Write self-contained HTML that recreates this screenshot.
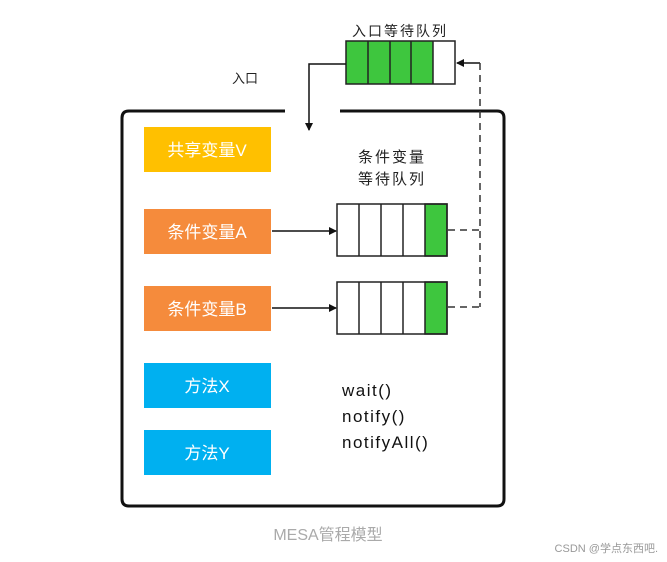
<!DOCTYPE html>
<html><head><meta charset="utf-8"><style>
html,body{margin:0;padding:0;background:#fff;}
svg{display:block;font-family:"Liberation Sans","Noto Sans CJK SC",sans-serif;}
</style></head><body>
<svg width="667" height="562" viewBox="0 0 667 562" xmlns="http://www.w3.org/2000/svg">
<defs><marker id="a" markerWidth="8" markerHeight="8" refX="7" refY="4" orient="auto" markerUnits="userSpaceOnUse"><path d="M0,0 L8,4 L0,8 z" fill="#111"/></marker></defs>
<path d="M285,111 L129,111 Q122,111 122,118 L122,499 Q122,506 129,506 L497,506 Q504,506 504,499 L504,118 Q504,111 497,111 L340,111" fill="none" stroke="#111" stroke-width="3"/>
<text x="232" y="83" font-size="13" fill="#222">入口</text>
<text x="400" y="36" font-size="14" fill="#222" text-anchor="middle" letter-spacing="2">入口等待队列</text>
<rect x="346" y="41" width="87" height="43" fill="#3EC63E"/>
<rect x="346" y="41" width="109" height="43" fill="none" stroke="#222" stroke-width="1.5"/>
<g stroke="#222" stroke-width="1.5"><line x1="368" y1="41" x2="368" y2="84"/><line x1="390" y1="41" x2="390" y2="84"/><line x1="411" y1="41" x2="411" y2="84"/><line x1="433" y1="41" x2="433" y2="84"/></g>
<polyline points="346,64 309,64 309,130" fill="none" stroke="#111" stroke-width="1.5" marker-end="url(#a)"/>
<line x1="480" y1="63" x2="457" y2="63" stroke="#111" stroke-width="1.5" marker-end="url(#a)"/>
<line x1="480" y1="63" x2="480" y2="307" stroke="#333" stroke-width="1.5" stroke-dasharray="7,5"/>
<rect x="144" y="127" width="127" height="45" fill="#FFC000"/>
<text x="207" y="156" font-size="17" fill="#fff" text-anchor="middle">共享变量V</text>
<rect x="144" y="209" width="127" height="45" fill="#F58B3C"/>
<text x="207" y="238" font-size="17" fill="#fff" text-anchor="middle">条件变量A</text>
<rect x="144" y="286" width="127" height="45" fill="#F58B3C"/>
<text x="207" y="315" font-size="17" fill="#fff" text-anchor="middle">条件变量B</text>
<rect x="144" y="363" width="127" height="45" fill="#00B0F0"/>
<text x="207" y="392" font-size="17" fill="#fff" text-anchor="middle">方法X</text>
<rect x="144" y="430" width="127" height="45" fill="#00B0F0"/>
<text x="207" y="459" font-size="17" fill="#fff" text-anchor="middle">方法Y</text>
<text x="392" y="162" font-size="15" fill="#222" text-anchor="middle" letter-spacing="2">条件变量</text>
<text x="392" y="184" font-size="15" fill="#222" text-anchor="middle" letter-spacing="2">等待队列</text>
<g stroke="#222" stroke-width="1.5">
<rect x="425" y="204" width="22" height="52" fill="#3EC63E"/>
<rect x="337" y="204" width="110" height="52" fill="none"/>
<line x1="359" y1="204" x2="359" y2="256"/><line x1="381" y1="204" x2="381" y2="256"/><line x1="403" y1="204" x2="403" y2="256"/>
<rect x="425" y="282" width="22" height="52" fill="#3EC63E"/>
<rect x="337" y="282" width="110" height="52" fill="none"/>
<line x1="359" y1="282" x2="359" y2="334"/><line x1="381" y1="282" x2="381" y2="334"/><line x1="403" y1="282" x2="403" y2="334"/>
</g>
<line x1="272" y1="231" x2="336" y2="231" stroke="#111" stroke-width="1.5" marker-end="url(#a)"/>
<line x1="272" y1="308" x2="336" y2="308" stroke="#111" stroke-width="1.5" marker-end="url(#a)"/>
<line x1="448" y1="230" x2="480" y2="230" stroke="#333" stroke-width="1.5" stroke-dasharray="7,5"/>
<line x1="448" y1="307" x2="480" y2="307" stroke="#333" stroke-width="1.5" stroke-dasharray="7,5"/>
<text x="342" y="396" font-size="17" fill="#111" letter-spacing="1.5">wait()</text>
<text x="342" y="422" font-size="17" fill="#111" letter-spacing="1.5">notify()</text>
<text x="342" y="448" font-size="17" fill="#111" letter-spacing="1.5">notifyAll()</text>
<text x="328" y="540" font-size="16" fill="#aaa" text-anchor="middle">MESA管程模型</text>
<text x="658" y="552" font-size="11" fill="#999" text-anchor="end">CSDN @学点东西吧.</text>
</svg>
</body></html>
